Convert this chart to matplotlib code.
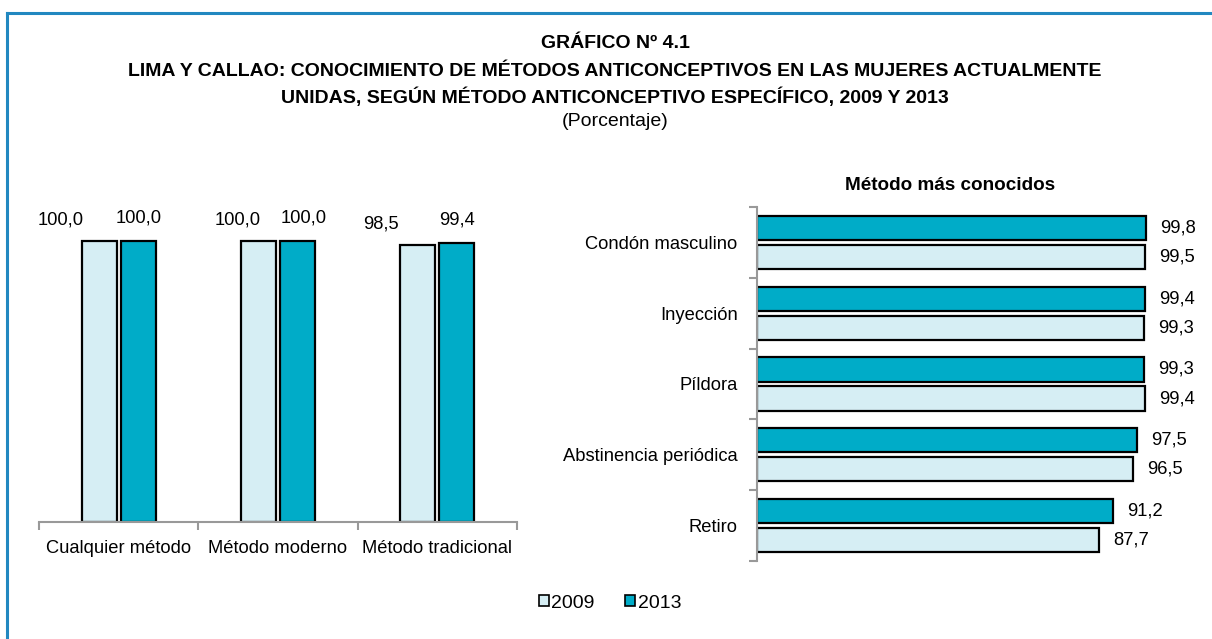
import matplotlib
matplotlib.use("Agg")
import matplotlib.pyplot as plt
from matplotlib.patches import Patch
from matplotlib.lines import Line2D
import numpy as np

plt.rcParams['font.family'] = ['Liberation Sans', 'DejaVu Sans']

# left panel: overall knowledge
groups = ["Cualquier método", "Método moderno", "Método tradicional"]
vals_2009 = [100.0, 100.0, 98.5]
vals_2013 = [100.0, 100.0, 99.4]

# right panel: best known methods
methods = ["Condón masculino", "Inyección", "Píldora", "Abstinencia periódica", "Retiro"]
meth_2009 = [99.5, 99.3, 99.4, 96.5, 87.7]
meth_2013 = [99.8, 99.4, 99.3, 97.5, 91.2]

years = ["2009", "2013"]

c09 = "#D6EEF4"
c13 = "#00ACC8"
fs = 13.2      # regular text
fs_t = 14.0    # bold title

def fmt(v):
    return f"{v:.1f}".replace(".", ",")

fig = plt.figure(figsize=(12.12, 6.39), dpi=100)

# frame lines (top and left)
fig.add_artist(Line2D([7 / 1212, 1.0], [1 - 13 / 639] * 2, color="#2288C0", lw=2.2))
fig.add_artist(Line2D([7 / 1212] * 2, [0, 1 - 13 / 639], color="#2288C0", lw=2.2))

# titles
cx = 615 / 1212
fig.text(cx, 1 - 44 / 639, "GRÁFICO Nº 4.1", ha="center", va="center", fontsize=fs_t, fontweight="bold")
fig.text(cx, 1 - 71 / 639, "LIMA Y CALLAO: CONOCIMIENTO DE MÉTODOS ANTICONCEPTIVOS EN LAS MUJERES ACTUALMENTE",
         ha="center", va="center", fontsize=fs_t, fontweight="bold")
fig.text(cx, 1 - 97 / 639, "UNIDAS, SEGÚN MÉTODO ANTICONCEPTIVO ESPECÍFICO, 2009 Y 2013",
         ha="center", va="center", fontsize=fs_t, fontweight="bold")
fig.text(cx, 1 - 122 / 639, "(Porcentaje)", ha="center", va="center", fontsize=14)

# ---- left chart ----
ax1 = fig.add_axes([39 / 1212, (639 - 522) / 639, 478 / 1212, 322 / 639])
x = np.arange(len(groups))
w = 0.22
off = 0.123
ax1.bar(x - off, vals_2009, w, color=c09, edgecolor="black", lw=1.6)
ax1.bar(x + off, vals_2013, w, color=c13, edgecolor="black", lw=1.6)
ax1.set_xlim(-0.5, 2.5)
ax1.set_ylim(0, 114.6)
for s in ["top", "right", "left"]:
    ax1.spines[s].set_visible(False)
ax1.spines["bottom"].set_color("#999999")
ax1.spines["bottom"].set_linewidth(1.5)
ax1.set_yticks([])
ax1.set_xticks(x)
ax1.set_xticklabels(groups, fontsize=fs)
ax1.tick_params(axis="x", which="major", length=0, pad=13)
ax1.set_xticks(np.arange(-0.5, 3, 1), minor=True)
ax1.tick_params(axis="x", which="minor", length=6, width=1.5, color="#999999", direction="out")

dx09 = [-38, -21, -37]
dx13 = [0, 6, 0]
for i in range(len(groups)):
    ax1.annotate(fmt(vals_2009[i]), (x[i] - off, vals_2009[i]), xytext=(dx09[i], 21),
                 textcoords="offset pixels", ha="center", va="center", fontsize=fs)
    ax1.annotate(fmt(vals_2013[i]), (x[i] + off, vals_2013[i]), xytext=(dx13[i], 23),
                 textcoords="offset pixels", ha="center", va="center", fontsize=fs)

# ---- right chart ----
ax2 = fig.add_axes([757 / 1212, (639 - 561) / 639, 433 / 1212, 354 / 639])
y = np.arange(len(methods))
h = 0.34
yo = 0.205
ax2.barh(y - yo, meth_2013, h, color=c13, edgecolor="black", lw=1.6)
ax2.barh(y + yo, meth_2009, h, color=c09, edgecolor="black", lw=1.6)
ax2.set_xlim(0, 111)
ax2.set_ylim(4.5, -0.5)
for s in ["top", "right", "bottom"]:
    ax2.spines[s].set_visible(False)
ax2.spines["left"].set_color("#999999")
ax2.spines["left"].set_linewidth(1.5)
ax2.set_xticks([])
ax2.set_yticks(y)
ax2.set_yticklabels(methods, fontsize=fs)
ax2.tick_params(axis="y", which="major", length=0, pad=14)
ax2.set_yticks(np.arange(-0.5, 5, 1), minor=True)
ax2.tick_params(axis="y", which="minor", length=6, width=1.5, color="#999999", direction="out")
for i in range(len(methods)):
    ax2.annotate(fmt(meth_2013[i]), (meth_2013[i], y[i] - yo), xytext=(14, 0),
                 textcoords="offset pixels", ha="left", va="center", fontsize=fs)
    ax2.annotate(fmt(meth_2009[i]), (meth_2009[i], y[i] + yo), xytext=(14, 0),
                 textcoords="offset pixels", ha="left", va="center", fontsize=fs)
fig.text(950 / 1212, 1 - 186 / 639, "Método más conocidos", ha="center", va="center",
         fontsize=13.6, fontweight="bold")

# legend
handles = [Patch(facecolor=c09, edgecolor="black", lw=1.2),
           Patch(facecolor=c13, edgecolor="black", lw=1.2)]
fig.legend(handles, years, loc="center", bbox_to_anchor=(610 / 1212, 1 - 603 / 639), ncol=2,
           frameon=False, fontsize=14, handlelength=0.5, handleheight=0.5, handletextpad=0.15,
           columnspacing=1.55)

fig.savefig("out.png", dpi=100)
